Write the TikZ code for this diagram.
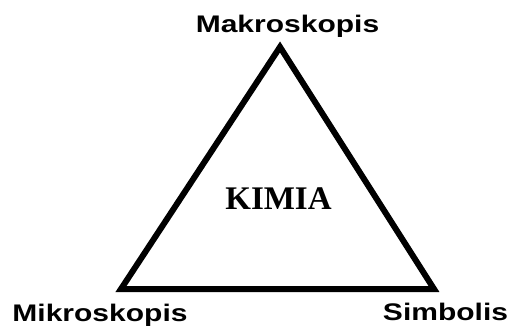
\documentclass[tikz,border=0pt]{standalone}
\usepackage{fontspec}
\setmainfont{Liberation Serif}
\newfontfamily\labfont{Liberation Sans}
\tikzset{
  lab/.style={anchor=base, inner sep=0pt, font=\labfont\bfseries\fontsize{24pt}{28pt}\selectfont},
  center/.style={anchor=base, inner sep=0pt, font=\rmfamily\bfseries\fontsize{33pt}{38pt}\selectfont},
  tri/.style={line width=6pt, line join=miter}
}
\begin{document}
\begin{tikzpicture}[x=1pt,y=-1pt]
\useasboundingbox (0,0) rectangle (514,332);
\coordinate (top) at (280,47);
\coordinate (bl) at (121,289);
\coordinate (br) at (434,289);
\draw[tri] (top) -- (bl) -- (br) -- cycle;
\node[lab] (mak) at (287.5,32) {\scalebox{1.25}[1]{Makroskopis}};
\node[lab] (mik) at (100,321) {\scalebox{1.25}[1]{Mikroskopis}};
\node[lab] (sim) at (445.5,320) {\scalebox{1.25}[1]{Simbolis}};
\node[center] (kimia) at (278.5,209) {KIMIA};
\end{tikzpicture}
\end{document}
